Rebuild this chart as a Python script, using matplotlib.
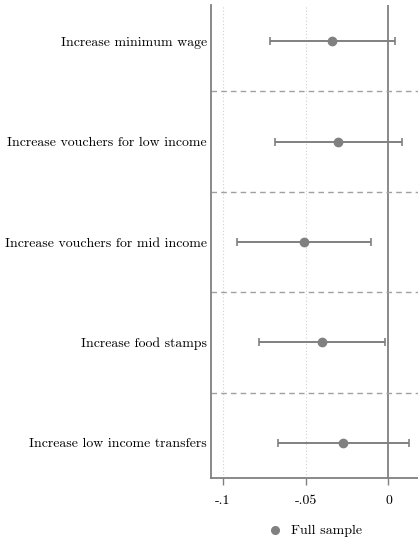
import matplotlib
matplotlib.use("Agg")
import matplotlib.pyplot as plt
from matplotlib.lines import Line2D

categories = [
    "Increase minimum wage",
    "Increase vouchers for low income",
    "Increase vouchers for mid income",
    "Increase food stamps",
    "Increase low income transfers",
]
estimates = [-0.0339, -0.0302, -0.0509, -0.0399, -0.0272]
ci_low = [-0.0716, -0.0686, -0.0913, -0.0778, -0.0667]
ci_high = [0.0037, 0.0081, -0.0107, -0.0021, 0.0125]
xticks = [-0.1, -0.05, 0]
xtick_labels = ["-.1", "-.05", "0"]
legend_label = "Full sample"

plt.rcParams["font.family"] = ["cmr10", "DejaVu Serif"]
plt.rcParams["axes.unicode_minus"] = False

gray = "#808080"
fig = plt.figure(figsize=(4.18, 5.39), dpi=100)
ax = fig.add_axes([211/418, 1-478/539, 1-211/418, (478-5)/539])

ypos = list(range(1, len(categories) + 1))
xerr = [[e - l for e, l in zip(estimates, ci_low)], [h - e for e, h in zip(estimates, ci_high)]]

for x in xticks[:2]:
    ax.axvline(x, color="#d0d0d0", lw=0.8, ls=(0, (1, 2)), zorder=0)
ax.axvline(0, color=gray, lw=1.3, zorder=1)
for s in range(1, len(categories)):
    ax.axhline(s + 0.5, color="#a0a0a0", lw=1.0, ls=(0, (4, 3)), zorder=1)

ax.errorbar(estimates, ypos, xerr=xerr, fmt="o", color=gray, ecolor=gray,
            elinewidth=1.4, capsize=3, capthick=1.2, markersize=6, zorder=3)

ax.set_xlim(-0.107, 0.0178)
ax.set_ylim(5.35, 0.64)
ax.set_xticks(xticks)
ax.set_xticklabels(xtick_labels, fontsize=10)
ax.set_yticks(ypos)
ax.set_yticklabels(categories, fontsize=9.95)
ax.tick_params(axis="y", length=0, pad=3)
ax.tick_params(axis="x", length=5, width=1.0, color=gray, pad=7)
for side in ["top", "right"]:
    ax.spines[side].set_visible(False)
for side in ["left", "bottom"]:
    ax.spines[side].set_color(gray)
    ax.spines[side].set_linewidth(1.3)

handle = Line2D([], [], marker="o", color=gray, ls="none", markersize=5.5)
fig.legend([handle], [legend_label], loc="center", bbox_to_anchor=(315/418, 1-531/539),
           frameon=False, fontsize=10, handletextpad=0.6, handlelength=1.0)

fig.savefig("out.png", dpi=100)
